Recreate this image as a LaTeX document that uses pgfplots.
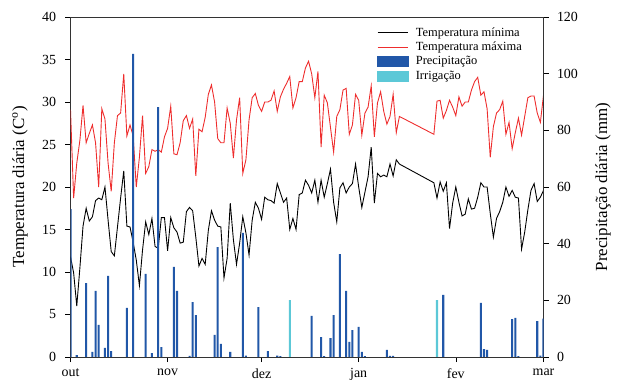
\documentclass[border=0pt]{standalone}
\usepackage{fontspec}
\setmainfont{Liberation Serif}
\usepackage{pgfplots}
\pgfplotsset{compat=1.18}
\usepackage{pgfplotstable}

\pgfplotstableread{
d tmin tmax
0 11.8 29.1
1 9.9 18.7
2 6.0 22.8
3 10.5 25.5
4 15.4 29.6
5 17.5 25.2
6 16.0 26.3
7 16.5 27.3
8 18.4 25.2
9 18.7 20.0
10 18.5 29.2
11 20.0 28.0
12 16.1 22.8
13 12.4 19.5
14 11.9 25.2
15 15.3 28.4
16 18.7 28.7
17 21.9 33.3
18 15.4 26.0
19 15.3 27.3
20 13.5 26.0
21 11.4 20.0
22 8.4 23.5
23 12.6 28.4
24 15.9 21.6
25 14.4 22.4
26 16.3 24.4
27 13.0 24.2
28 12.8 24.4
29 16.4 24.1
30 16.4 25.9
31 12.5 26.9
32 16.4 29.5
33 15.2 23.9
34 14.7 23.8
35 13.4 25.2
36 13.5 27.8
37 17.1 28.4
38 17.6 26.9
39 17.2 28.0
40 14.1 21.3
41 10.7 26.8
42 11.6 26.5
43 10.9 28.2
44 14.9 30.9
45 17.2 32.0
46 16.1 30.0
47 15.4 25.7
48 15.3 25.2
49 9.3 25.2
50 11.6 29.3
51 18.1 27.5
52 13.8 23.4
53 10.9 27.9
54 13.4 30.5
55 16.5 21.6
56 14.6 23.2
57 12.0 27.9
58 16.1 30.5
59 18.2 31.0
60 17.5 29.6
61 16.2 28.9
62 18.8 30.0
63 18.5 30.0
64 18.4 30.2
65 18.1 31.3
66 20.4 28.9
67 19.3 30.6
68 18.2 31.5
69 18.7 32.2
70 15.0 33.0
71 16.3 29.3
72 15.0 30.5
73 19.1 32.4
74 19.3 32.4
75 20.8 34.0
76 20.2 34.8
77 19.3 33.3
78 20.8 30.5
79 18.2 33.6
80 20.8 24.7
81 18.8 30.8
82 20.4 29.9
83 22.1 27.0
84 18.2 24.1
85 15.9 28.3
86 19.9 29.1
87 20.5 31.4
88 19.3 31.6
89 20.0 26.2
90 20.4 27.3
91 22.7 30.9
92 20.0 30.2
93 17.6 26.1
94 19.4 28.7
95 21.2 29.4
96 24.7 31.9
97 18.1 25.9
98 21.6 29.9
99 21.2 31.2
100 21.4 28.9
101 21.2 27.4
102 22.7 28.3
103 21.3 30.9
104 23.2 26.4
105 22.7 28.3
116 20.5 26.2
117 18.7 30.1
118 20.6 30.2
119 19.5 28.1
120 20.5 29.0
121 15.1 30.2
122 18.1 29.4
123 20.0 28.4
124 18.2 30.6
125 16.6 29.5
126 16.8 30.0
127 18.6 30.0
128 17.4 31.4
129 17.5 32.4
130 18.8 32.9
131 20.5 30.8
132 20.0 31.2
133 20.0 29.2
134 16.9 23.5
135 14.1 27.1
136 16.3 28.7
137 17.1 29.1
138 18.2 30.1
139 20.0 26.2
140 18.9 27.6
141 19.6 24.5
142 18.8 26.4
143 18.7 28.1
144 12.7 26.1
145 14.7 28.3
146 17.3 30.5
147 19.6 30.7
148 20.4 30.7
149 18.3 28.7
150 18.8 27.6
151 19.6 30.8
}\temps

\pgfplotstableread{
d p
0 52.2
2 0.7
5 26.1
7 1.8
8 23.3
9 11.3
11 3.2
12 28.6
13 2.1
18 17.3
20 107.0
24 29.3
26 1.4
28 88.2
29 3.5
33 31.8
34 23.3
38 0.4
39 19.4
40 14.8
46 7.8
47 38.8
48 4.6
51 1.8
55 43.8
56 0.5
60 17.6
63 2.1
66 0.5
67 0.3
77 14.5
80 7.0
81 0.3
83 6.7
84 14.8
86 36.3
88 23.3
89 5.3
90 9.5
92 10.6
93 1.8
94 0.3
101 2.5
102 0.4
103 0.4
119 21.9
131 19.1
132 2.8
133 2.5
141 13.4
142 13.8
143 0.3
149 12.7
150 0.5
151 13.5
}\precip

\pgfplotstableread{
d p
70 20.1
117 20.1
}\irrig

\definecolor{tmaxred}{RGB}{238,45,45}
\definecolor{precblue}{RGB}{33,87,168}
\definecolor{irrcyan}{RGB}{92,200,215}

\pgfplotsset{
  blackleg/.style={legend image code/.code={\draw[black, line width=0.9pt] (0bp,0bp) -- (30bp,0bp);}},
  redleg/.style={legend image code/.code={\draw[tmaxred, line width=0.9pt] (0bp,0bp) -- (30bp,0bp);}},
  blueleg/.style={legend image code/.code={\fill[precblue] (0bp,-5bp) rectangle (31bp,5bp);}},
  cyanleg/.style={legend image code/.code={\fill[irrcyan] (0bp,-5bp) rectangle (31bp,5bp);}},
}

\begin{document}
\begin{tikzpicture}
\pgfplotsset{every axis/.append style={
  scale only axis, width=473bp, height=340bp,
  xmin=0, xmax=151,
  font=\fontsize{14}{16}\selectfont,
  /pgf/number format/assume math mode=true,
  tick align=outside, major tick length=5bp,
  every tick/.style={black, line width=0.5pt},
  axis line style={line width=0.6pt, black!80},
  every axis y label/.append style={font=\fontsize{17}{19}\selectfont},
}}
\begin{axis}[
  ymin=0, ymax=40, ytick={0,5,...,40},
  xtick={0,31,61,92,123,151},
  xticklabels={out,nov,dez,jan,fev,mar},
  xtick pos=left, ytick pos=left,
  xticklabel style={yshift=-3bp},
  yticklabel style={xshift=-6bp},
  ylabel={Temperatura diária (C\textsuperscript{o})},
  ylabel style={at={(axis description cs:-0.1068,0.5)}, anchor=center},
  every axis plot/.append style={line width=0.9pt},
]
\addplot[black] table[x=d, y=tmin] {\temps};
\addplot[tmaxred] table[x=d, y=tmax] {\temps};
\end{axis}
\begin{axis}[
  ymin=0, ymax=120, ytick={0,20,...,120},
  axis y line*=right, axis x line=none,
  yticklabel style={xshift=5bp},
  ylabel={Precipitação diária (mm)},
  ylabel style={at={(axis description cs:1.1258,0.5)}, anchor=center},
  legend style={at={(0.648,0.972)}, anchor=north west, draw=none, fill=none,
    font=\fontsize{12.5}{15}\selectfont, inner sep=0pt, row sep=2.3bp,
    column sep=6bp, nodes={inner sep=1pt}},
  legend cell align=left,
]
\addplot[ybar, bar width=0.65, bar shift=0pt, fill=precblue, draw=none, forget plot] table[x=d, y=p] {\precip};
\addplot[ybar, bar width=0.65, bar shift=0pt, fill=irrcyan, draw=none, forget plot] table[x=d, y=p] {\irrig};
\addlegendimage{blackleg}
\addlegendimage{redleg}
\addlegendimage{blueleg}
\addlegendimage{cyanleg}
\legend{Temperatura mínima, Temperatura máxima, Precipitação, Irrigação}
\end{axis}
\pgfresetboundingbox
\path (current axis.south west) ++(-70.5bp,-29bp) rectangle ++(623bp,386bp);
\end{tikzpicture}
\end{document}
